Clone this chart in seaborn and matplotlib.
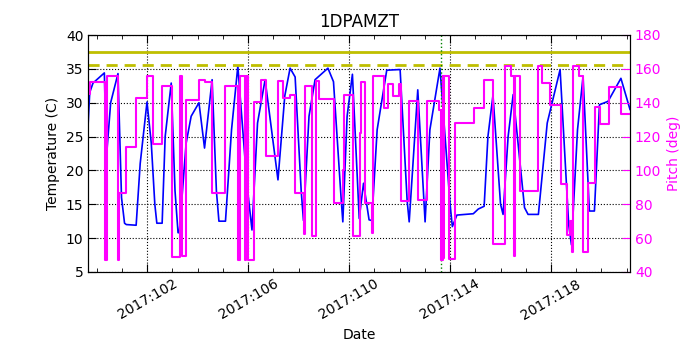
import matplotlib
matplotlib.use("Agg")
import matplotlib.pyplot as plt
import matplotlib.ticker as mticker
import pandas as pd
import seaborn as sns

# temperature trace (day of year 2017, deg C)
temp_day = [99.66, 99.72, 99.85, 100.30, 100.38, 100.55, 100.84, 100.98, 101.10, 101.17,
            101.56, 101.72, 101.99, 102.16, 102.30, 102.38, 102.59, 102.71, 102.95, 103.10,
            103.22, 103.27, 103.54, 103.74, 104.05, 104.27, 104.57, 104.74, 104.84, 105.10,
            105.34, 105.59, 105.95, 106.15, 106.37, 106.67, 107.18, 107.45, 107.66, 107.86,
            108.10, 108.19, 108.41, 108.65, 109.16, 109.38, 109.68, 109.75, 109.92, 110.13,
            110.40, 110.57, 110.79, 110.90, 111.11, 111.49, 112.02, 112.30, 112.38, 112.72,
            113.01, 113.20, 113.60, 114.00, 114.09, 114.27, 114.92, 115.12, 115.35, 115.50,
            115.70, 116.00, 116.10, 116.30, 116.50, 116.95, 117.09, 117.50, 117.85, 118.36,
            118.70, 118.81, 119.05, 119.27, 119.52, 119.72, 119.92, 120.26, 120.77, 121.13]
temp_c = [27.0, 31.5, 32.9, 34.4, 21.8, 30.0, 34.3, 16.0, 12.2, 12.0,
          11.9, 21.0, 30.1, 24.0, 15.0, 12.2, 12.2, 25.0, 32.9, 17.0,
          10.8, 10.8, 24.0, 28.0, 30.0, 23.3, 33.4, 17.0, 12.5, 12.5,
          26.0, 35.4, 18.0, 11.2, 27.0, 33.4, 18.6, 31.0, 35.1, 33.8,
          17.0, 12.6, 28.0, 33.4, 35.1, 33.1, 16.0, 12.4, 28.0, 34.2,
          12.9, 18.1, 12.7, 12.6, 26.0, 34.8, 34.9, 15.5, 12.4, 31.9,
          12.4, 26.0, 35.1, 15.0, 11.7, 13.4, 13.6, 14.3, 14.7, 25.0,
          31.1, 15.0, 13.5, 25.0, 31.2, 14.5, 13.5, 13.5, 27.0, 34.9,
          12.0, 9.0, 26.0, 33.9, 14.0, 14.0, 29.7, 30.2, 33.6, 29.0]

# pitch trace (step changes)
pitch_day = [99.66, 99.74, 100.31, 100.40, 100.84, 100.90, 101.14, 101.56, 101.99, 102.23,
             102.59, 102.99, 103.31, 103.39, 103.54, 104.05, 104.27, 104.57, 105.10, 105.59,
             105.66, 105.86, 105.91, 106.01, 106.24, 106.51, 106.71, 107.20, 107.37, 107.66,
             107.86, 108.20, 108.27, 108.53, 108.69, 108.81, 109.42, 109.77, 109.81, 110.17,
             110.44, 110.48, 110.61, 110.91, 110.94, 111.40, 111.53, 111.73, 111.99, 112.06,
             112.39, 112.72, 113.08, 113.55, 113.66, 113.70, 113.73, 113.76, 113.94, 114.21,
             114.95, 115.36, 115.71, 116.17, 116.43, 116.53, 116.58, 116.76, 117.50, 117.64,
             117.96, 118.40, 118.64, 118.74, 118.83, 118.88, 119.09, 119.28, 119.47, 119.73,
             119.96, 120.31, 120.78, 121.13]
pitch_deg = [145.0, 152.0, 47.0, 156.0, 47.0, 86.5, 114.0, 143.0, 155.6, 115.6,
             149.7, 49.0, 155.6, 49.6, 141.8, 153.6, 152.0, 86.7, 150.0, 47.0,
             156.0, 47.0, 156.0, 47.0, 140.4, 153.5, 108.7, 152.8, 142.7, 144.5,
             86.8, 62.5, 150.0, 61.1, 152.6, 142.4, 80.6, 100.4, 144.4, 61.4,
             122.0, 152.0, 80.8, 63.0, 156.0, 136.9, 151.0, 143.8, 151.0, 81.8,
             140.8, 82.4, 140.8, 135.5, 47.3, 155.6, 48.0, 155.6, 47.7, 128.0,
             137.0, 153.6, 56.8, 161.4, 156.0, 49.3, 156.0, 87.6, 161.6, 151.7,
             138.5, 92.1, 61.6, 70.0, 52.0, 161.6, 155.9, 51.6, 92.5, 137.4,
             127.2, 149.4, 133.6, 133.6]

limit_planning = 37.5
limit_caution = 35.5
event_day = 113.66
major_days = [102, 106, 110, 114, 118]

temp_df = pd.DataFrame({"day": temp_day, "temp": temp_c})
pitch_df = pd.DataFrame({"day": pitch_day, "pitch": pitch_deg})

plt.rcParams.update({
    "xtick.direction": "in", "ytick.direction": "in",
    "xtick.top": True, "ytick.right": False,
    "font.size": 10,
})

fig, ax = plt.subplots(figsize=(7, 3.5), dpi=100)
fig.subplots_adjust(left=0.126, right=0.9, bottom=0.223, top=0.9)

sns.lineplot(data=temp_df, x="day", y="temp", ax=ax, color="b", lw=1.2,
             estimator=None, sort=False)
ax.axhline(limit_planning, color=(0.75, 0.75, 0), lw=2)
ax.axhline(limit_caution, color=(0.75, 0.75, 0), lw=2, ls="--", dashes=(4, 2.5))
ax.axvline(event_day, color="g", ls=":", lw=1)

ax.set_xlim(99.66, 121.13)
ax.set_ylim(5, 40)
ax.set_yticks(range(5, 41, 5))
ax.xaxis.set_major_locator(mticker.FixedLocator(major_days))
ax.xaxis.set_minor_locator(mticker.MultipleLocator(1))
ax.xaxis.set_major_formatter(mticker.FuncFormatter(lambda v, p: f"2017:{int(round(v)):03d}"))
ax.tick_params(which="major", length=6)
ax.tick_params(which="minor", length=3)
ax.grid(True, which="major", color="k", ls=":", lw=0.8)
ax.set_xlabel("Date")
ax.set_ylabel("Temperature (C)")
ax.set_title("1DPAMZT", fontsize=12)
for lab in ax.get_xticklabels():
    lab.set_rotation(30)
    lab.set_ha("center")

ax2 = ax.twinx()
sns.lineplot(data=pitch_df, x="day", y="pitch", ax=ax2, color="#ff00ff", lw=1.5,
             estimator=None, sort=False, drawstyle="steps-post")
ax2.set_ylim(40, 180)
ax2.set_yticks(range(40, 181, 20))
ax2.set_ylabel("Pitch (deg)", color="#ff00ff")
ax2.tick_params(axis="y", colors="#ff00ff", direction="in", length=6)
ax2.set_xlim(99.66, 121.13)

fig.savefig("out.png", dpi=100)
